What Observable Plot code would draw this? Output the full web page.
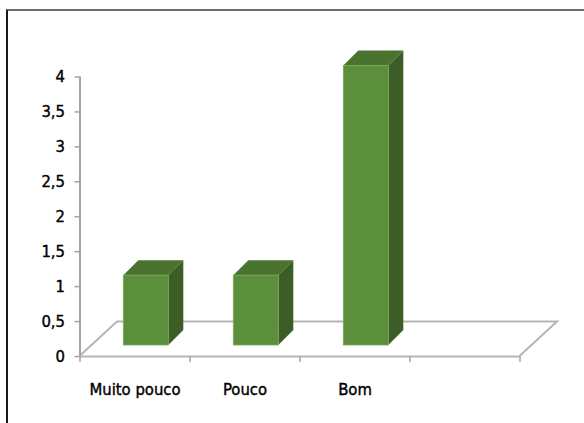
<!DOCTYPE html>
<html>
<head>
<meta charset="utf-8">
<script src="https://cdn.jsdelivr.net/npm/d3@7"></script>
<script src="https://cdn.jsdelivr.net/npm/@observablehq/plot@0.6"></script>
<style>
  body { margin: 0; background: #fff; }
  #chart { position: relative; width: 584px; height: 423px; overflow: hidden; }
  #chart svg { position: absolute; left: 0; top: 0; }
  #frame { position: absolute; left: 6px; top: 9px; right: -4px; bottom: -4px;
           border-top: 2px solid #6b6b6b; border-left: 2px solid #1a1a1a; }
</style>
</head>
<body>
<div id="chart"><div id="frame"></div></div>
<script>
// Survey answers
const categories = ["Muito pouco", "Pouco", "Bom"];
const values = [1, 1, 4];
const slotCount = 4;          // category slots on the axis (the last one is empty)
const yTicks = [0, 0.5, 1, 1.5, 2, 2.5, 3, 3.5, 4];

const rows = categories.map((category, i) => ({category, pos: i + 0.5, value: values[i]}));

// 3D look (pixels)
const FLOOR = {dx: 37.5, dy: -34.5};
const BAR = {dx: 11.3, dy: -11, depthX: 15, depthY: -15, halfWidth: 22.5};
const COLORS = {front: "#5b8f3b", top: "#4a7330", side: "#3c5d26", edge: "#7aa85a", floor: "#b5b5b5", axis: "#a3a3a3"};

// floor of the 3D plot: left edge, back edge, right edge
function floorMark(index, {x, y}) {
  const x0 = x(0), x1 = x(slotCount), y0 = y(0);
  const g = d3.create("svg:g");
  g.append("path")
    .attr("d", `M${x0},${y0}L${x0 + FLOOR.dx},${y0 + FLOOR.dy}L${x1 + FLOOR.dx},${y0 + FLOOR.dy}L${x1},${y0}`)
    .attr("fill", "none").attr("stroke", COLORS.floor).attr("stroke-width", 2);
  return g.node();
}

// extruded bars: side face, top face, front face
function barsMark(index, {x, y}) {
  const g = d3.create("svg:g");
  for (const d of rows) {
    const cx = x(d.pos) + BAR.dx;
    const l = cx - BAR.halfWidth, r = cx + BAR.halfWidth;
    const b = y(0) + BAR.dy, t = y(d.value) + BAR.dy;
    const ox = BAR.depthX, oy = BAR.depthY;
    g.append("path")
      .attr("d", `M${r},${b}L${r},${t}L${r + ox},${t + oy}L${r + ox},${b + oy}Z`)
      .attr("fill", COLORS.side);
    g.append("path")
      .attr("d", `M${l},${t}L${l + ox},${t + oy}L${r + ox},${t + oy}L${r},${t}Z`)
      .attr("fill", COLORS.top);
    g.append("rect")
      .attr("x", l).attr("y", t).attr("width", r - l).attr("height", b - t)
      .attr("fill", COLORS.front).attr("stroke", COLORS.edge).attr("stroke-width", 0.8);
  }
  return g.node();
}

const chart = Plot.plot({
  width: 584,
  height: 423,
  marginLeft: 79.5,
  marginRight: 64.5,
  marginTop: 76.5,
  marginBottom: 67,
  style: {fontFamily: "'Liberation Sans Narrow', 'DejaVu Sans Condensed', 'Open Sans', sans-serif", fontSize: "16.5px", color: "#000", background: "transparent"},
  x: {type: "linear", domain: [0, slotCount], axis: null},
  y: {domain: [0, 4], axis: null},
  marks: [
    floorMark,
    barsMark,
    Plot.ruleY([0], {stroke: COLORS.floor, strokeWidth: 2}),
    Plot.ruleX([0], {stroke: COLORS.axis, strokeWidth: 2}),
    Plot.axisY({ticks: yTicks, tickFormat: d => String(d).replace(".", ","), tickSize: 5, tickPadding: 10,
                stroke: COLORS.axis, strokeWidth: 1.5, fill: "#000", fontSize: 16.5,
                textStroke: "#000", textStrokeWidth: 0.4, label: null}),
    Plot.axisX({ticks: d3.range(slotCount + 1), tickFormat: () => "", tickSize: 6,
                stroke: COLORS.axis, strokeWidth: 1.5, label: null}),
    Plot.text(rows, {x: "pos", y: () => 0, text: "category", dy: 33, fontSize: 16.5, fill: "#000",
                     stroke: "#000", strokeWidth: 0.4})
  ]
});
document.getElementById("chart").appendChild(chart);
</script>
</body>
</html>
